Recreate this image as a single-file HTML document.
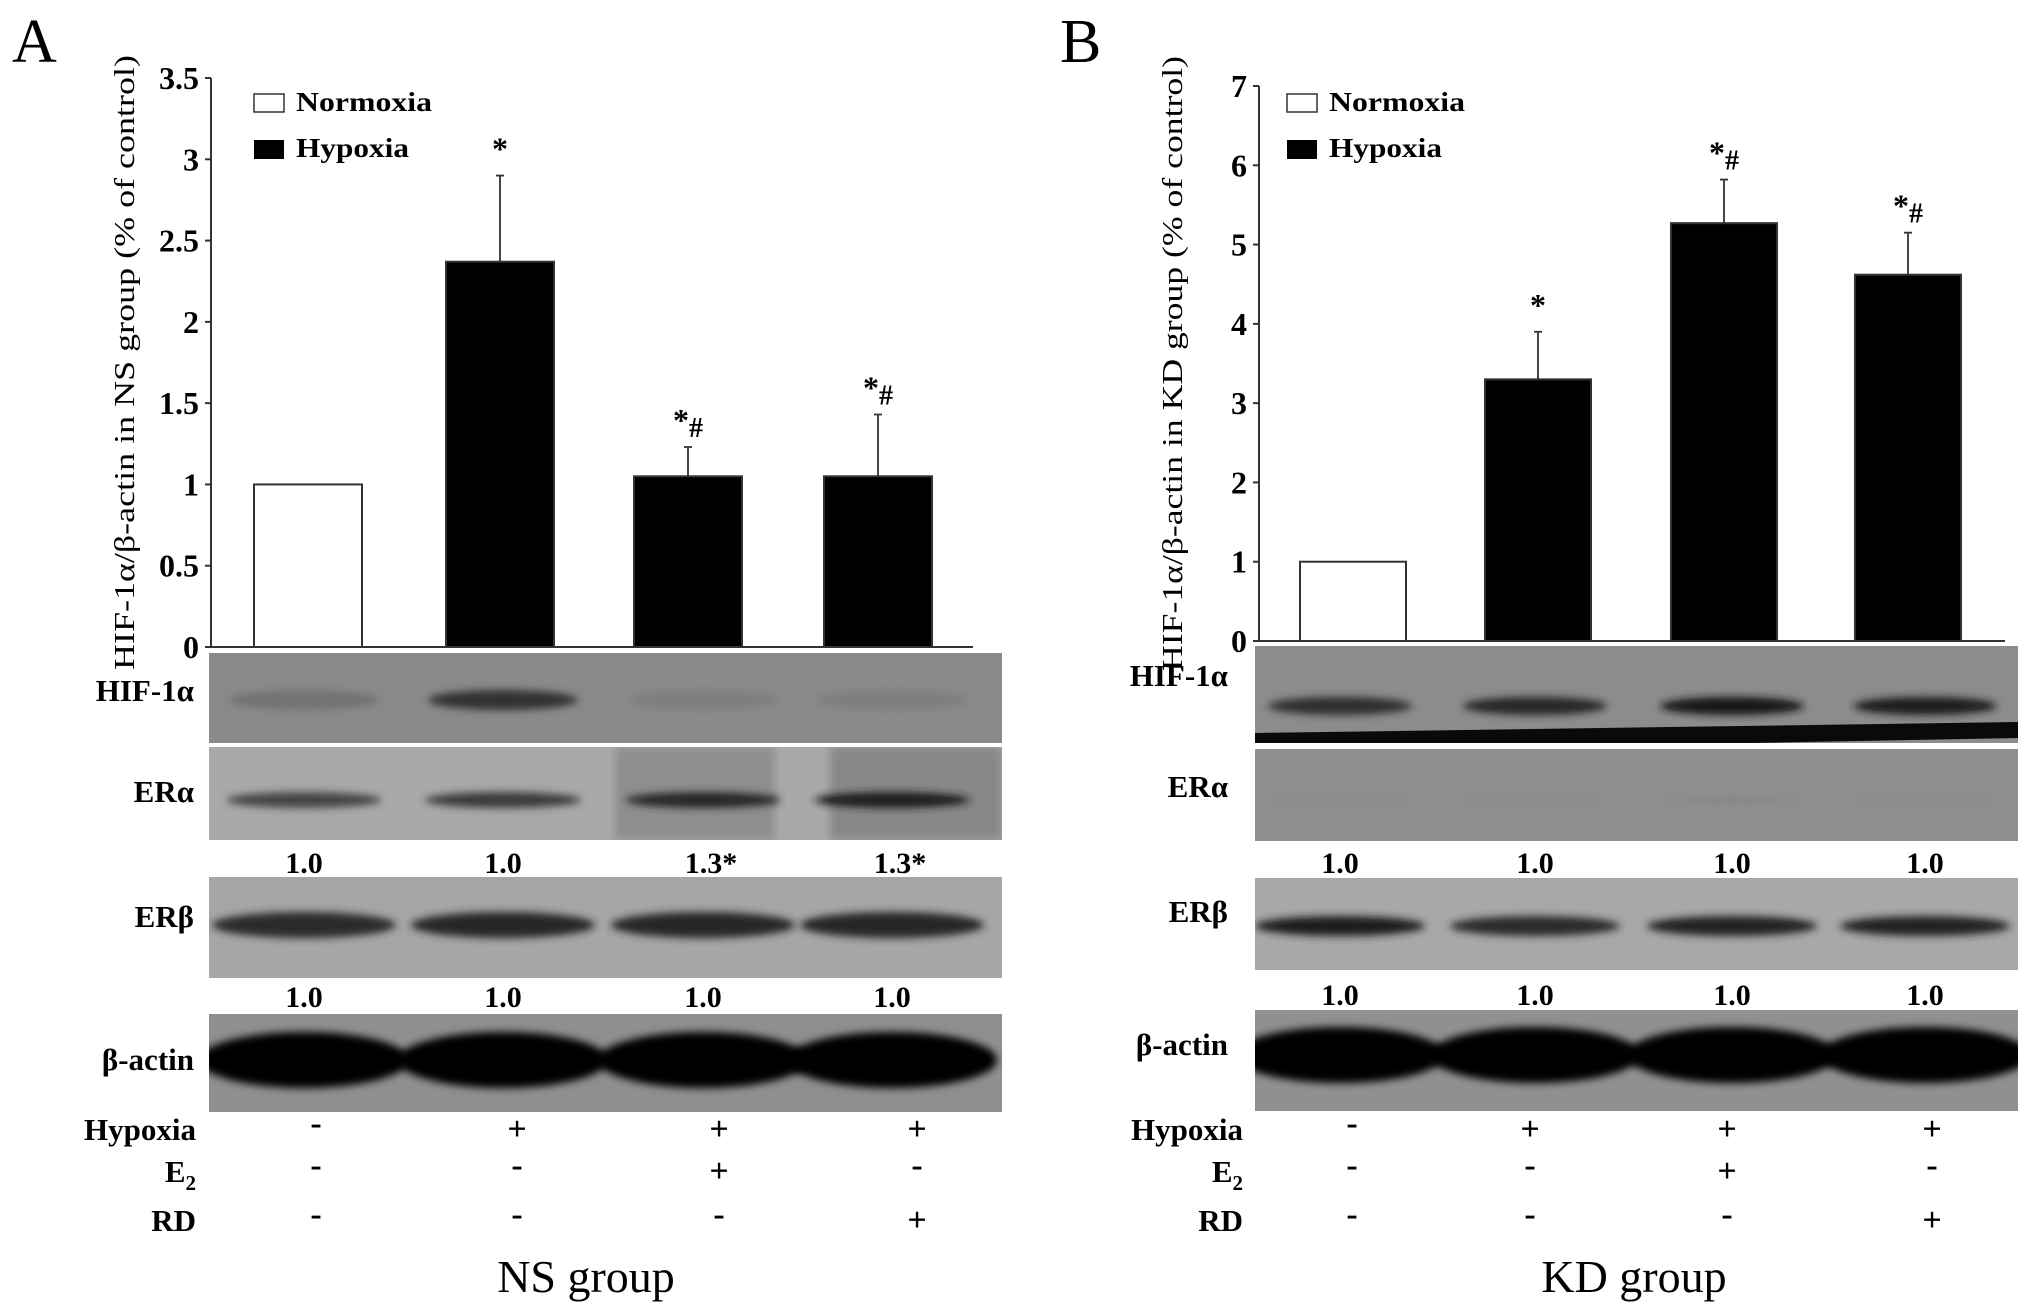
<!DOCTYPE html>
<html><head><meta charset="utf-8"><style>
html,body{margin:0;padding:0;background:#fff;}
svg{display:block;font-family:"Liberation Serif",serif;}
</style></head><body>
<svg id="fig" width="2031" height="1316" viewBox="0 0 2031 1316" xmlns="http://www.w3.org/2000/svg">
<defs id="defs">
<filter id="blur4" x="-20%" y="-50%" width="140%" height="200%"><feGaussianBlur stdDeviation="4"/></filter>
</defs>
<g id="root"></g>
</svg>
<script>
const catsA = ["Normoxia","Hypoxia","Hypoxia+E2","Hypoxia+RD"];
const valsA = [1.0, 2.37, 1.05, 1.05];
const errA = [null, 2.9, 1.23, 1.43];
const sigA = ["", "*", "*#", "*#"];
const ticksA = [0,0.5,1,1.5,2,2.5,3,3.5];
const valsB = [1.0, 3.3, 5.27, 4.62];
const errB = [null, 3.9, 5.82, 5.15];
const sigB = ["", "*", "*#", "*#"];
const ticksB = [0,1,2,3,4,5,6,7];
const erAlphaA = ["1.0","1.0","1.3*","1.3*"];
const erBetaA = ["1.0","1.0","1.0","1.0"];
const erAlphaB = ["1.0","1.0","1.0","1.0"];
const erBetaB = ["1.0","1.0","1.0","1.0"];
const hypoxiaRow = ["-","+","+","+"];
const e2Row = ["-","-","+","-"];
const rdRow = ["-","-","-","+"];

const NS="http://www.w3.org/2000/svg";
const root=document.getElementById('root');
const defs=document.getElementById('defs');
let clipId=0;
function el(tag,attrs,parent,text){const e=document.createElementNS(NS,tag);for(const k in attrs)e.setAttribute(k,attrs[k]);if(text!==undefined)e.textContent=text;(parent||root).appendChild(e);return e;}

function panel(cfg){
  const g=el('g',{});
  
  
  const y=v=>cfg.y0-(v/cfg.max)*(cfg.y0-cfg.yTop);
  const L=el('text',{x:cfg.letterX,y:62,'font-size':62},g,cfg.letter);
  
  
  const ya=el('line',{x1:cfg.ax,y1:cfg.yTop,x2:cfg.ax,y2:cfg.y0,stroke:'#333','stroke-width':2},g);
  
  
  const xa=el('line',{x1:cfg.ax,y1:cfg.y0,x2:cfg.axEnd,y2:cfg.y0,stroke:'#333','stroke-width':2},g);
  
  
  cfg.ticks.forEach(t=>{
    const ty=y(t);
    const tl=el('line',{x1:cfg.ax-6,y1:ty,x2:cfg.ax,y2:ty,stroke:'#333','stroke-width':2},g);
    
    
    const tx=el('text',{x:cfg.ax-12,y:ty+11,'font-size':32,'font-weight':'bold','text-anchor':'end'},g,String(t));
    
    
  });
  const yt=el('text',{x:0,y:0,'font-size':29,'text-anchor':'middle',transform:`translate(${cfg.titleX},${(cfg.yTop+cfg.y0)/2}) rotate(-90)`,textLength:615,lengthAdjust:'spacingAndGlyphs'},g,cfg.title);
  
  
  const lg=el('g',{},g);
  
  
  const b1=el('rect',{x:cfg.legX,y:94,width:30,height:18,fill:'#fff',stroke:'#333','stroke-width':1.5},lg);
  
  
  const t1=el('text',{x:cfg.legX+42,y:111,'font-size':27,'font-weight':'bold',textLength:136,lengthAdjust:'spacingAndGlyphs'},lg,'Normoxia');
  
  
  const b2=el('rect',{x:cfg.legX,y:140,width:30,height:19,fill:'#000'},lg);
  
  
  const t2=el('text',{x:cfg.legX+42,y:157,'font-size':27,'font-weight':'bold',textLength:113,lengthAdjust:'spacingAndGlyphs'},lg,'Hypoxia');
  
  
  cfg.vals.forEach((v,i)=>{
    const x0=cfg.barX[i];
    const r=el('rect',{x:x0,y:y(v),width:cfg.barW,height:cfg.y0-y(v),fill:i===0?'#fff':'#000',stroke:'#333','stroke-width':2},g);
    
    
    const cx=x0+cfg.barW/2;
    if(cfg.err[i]!==null){
      const e=el('path',{d:`M${cx},${y(v)} V${y(cfg.err[i])} M${cx-4},${y(cfg.err[i])} H${cx+4}`,stroke:'#333','stroke-width':1.8,fill:'none'},g);
      
      
    }
    if(cfg.sig[i]){
      const top=cfg.err[i]!==null?y(cfg.err[i]):y(v);
      const s=el('text',{x:cx,y:top-16,'font-size':30,'font-weight':'bold','text-anchor':'middle'},g);
      
      
      cfg.sig[i].split('').forEach(p=>{el('tspan',{dy:p==='#'?6:0,'font-size':p==='#'?28:32},s,p);});
    }
  });
  const lanes=cfg.lanes;
  cfg.blots.forEach(b=>{
    const id='clip'+(clipId++);
    const cp=el('clipPath',{id:id},defs);
    el('rect',{x:cfg.blotX,y:b.y,width:cfg.blotW,height:b.h},cp);
    const bg=el('g',{'clip-path':`url(#${id})`},g);
    
    
    el('rect',{x:cfg.blotX,y:b.y,width:cfg.blotW,height:b.h,fill:b.bg},bg);
    if(b.pre) b.pre(bg);
    lanes.forEach((lx,i)=>{
      el('ellipse',{cx:lx,cy:b.by,rx:b.bw,ry:b.bh,fill:b.band[i],filter:'url(#blur4)'},bg);
    });
    if(b.extra) b.extra(bg);
    const lab=el('text',{x:cfg.labelRight,y:b.y+b.ly,'font-size':31,'font-weight':'bold','text-anchor':'end'},g,b.label);
    
    
  });
  [[cfg.numsA,cfg.numY1],[cfg.numsB,cfg.numY2]].forEach(([arr,ny])=>{
    arr.forEach((t,i)=>{
      const n=el('text',{x:lanes[i]+(t.length>3?8:0),y:ny,'font-size':30,'font-weight':'bold','text-anchor':'middle'},g,t);
      
      
    });
  });
  [["Hypoxia",hypoxiaRow,1140],["E",e2Row,1182],["RD",rdRow,1231]].forEach(([lab,row,ry])=>{
    const t=el('text',{x:cfg.rowLabelRight,y:ry,'font-size':31,'font-weight':'bold','text-anchor':'end'},g,lab);
    if(lab==="E") el('tspan',{dy:8,'font-size':21},t,'2');
    
    
    row.forEach((s,i)=>{
      const m=el('text',{x:cfg.signX[i],y:ry-(s==='-'?6:0),'font-size':34,'font-weight':'bold','text-anchor':'middle'},g,s);
      
      
    });
  });
  const gl=el('text',{x:cfg.groupX,y:1292,'font-size':46,'text-anchor':'middle'},g,cfg.group);
  
  
}

panel({name:'panel-a',letter:'A',letterX:12,ax:211,axEnd:973,yTop:78,y0:647,max:3.5,ticks:ticksA,
  title:'HIF-1α/β-actin in NS group (% of control)',titleX:134,legX:254,
  vals:valsA,err:errA,sig:sigA,barX:[254,446,634,824],barW:108,
  lanes:[304,503,703,892],signX:[316,517,719,917],blotX:209,blotW:793,labelRight:194,rowLabelRight:196,
  numsA:erAlphaA,numsB:erBetaA,numY1:873,numY2:1007,groupX:586,group:'NS group',
  blots:[
    {name:'blot-hif1a-a',label:'HIF-1α',y:653,h:90,ly:48,bg:'#8a8a8a',by:700,bh:10,bw:75,band:['#727272','#333','#7e7e7e','#7e7e7e']},
    {name:'blot-era-a',label:'ERα',y:747,h:93,ly:55,bg:'#a9a9a9',by:800,bh:8,bw:78,band:['#444','#3a3a3a','#262626','#1e1e1e'],
      pre:bg=>{el('rect',{x:615,y:747,width:160,height:93,fill:'#8f8f8f',filter:'url(#blur4)'},bg);el('rect',{x:830,y:747,width:172,height:93,fill:'#888',filter:'url(#blur4)'},bg);}},
    {name:'blot-erb-a',label:'ERβ',y:877,h:101,ly:50,bg:'#a6a6a6',by:925,bh:13,bw:92,band:['#2a2a2a','#262626','#262626','#262626']},
    {name:'blot-actin-a',label:'β-actin',y:1014,h:98,ly:56,bg:'#8f8f8f',by:1060,bh:28,bw:105,band:['#050505','#050505','#050505','#050505']}
  ]});

panel({name:'panel-b',letter:'B',letterX:1060,ax:1259,axEnd:2005,yTop:86,y0:641,max:7,ticks:ticksB,
  title:'HIF-1α/β-actin in KD group (% of control)',titleX:1182,legX:1287,
  vals:valsB,err:errB,sig:sigB,barX:[1300,1485,1671,1855],barW:106,
  lanes:[1340,1535,1732,1925],signX:[1352,1530,1727,1932],blotX:1255,blotW:763,labelRight:1228,rowLabelRight:1243,
  numsA:erAlphaB,numsB:erBetaB,numY1:873,numY2:1005,groupX:1634,group:'KD group',
  blots:[
    {name:'blot-hif1a-b',label:'HIF-1α',y:646,h:100,ly:40,bg:'#8c8c8c',by:706,bh:9,bw:72,band:['#2e2e2e','#262626','#151515','#1c1c1c'],
      extra:bg=>{el('path',{d:'M1255,733 L2018,722 L2018,738 L1700,744 L1255,746 Z',fill:'#0a0a0a'},bg);el('rect',{x:1255,y:743,width:763,height:3,fill:'#fff'},bg);}},
    {name:'blot-era-b',label:'ERα',y:749,h:92,ly:48,bg:'#8e8e8e',by:800,bh:4,bw:70,band:['#8a8a8a','#8a8a8a','#888','#8a8a8a']},
    {name:'blot-erb-b',label:'ERβ',y:878,h:92,ly:44,bg:'#a8a8a8',by:926,bh:10,bw:85,band:['#1e1e1e','#2a2a2a','#222','#222']},
    {name:'blot-actin-b',label:'β-actin',y:1010,h:101,ly:45,bg:'#909090',by:1055,bh:28,bw:105,band:['#050505','#050505','#050505','#050505']}
  ]});
</script>
</body></html>
